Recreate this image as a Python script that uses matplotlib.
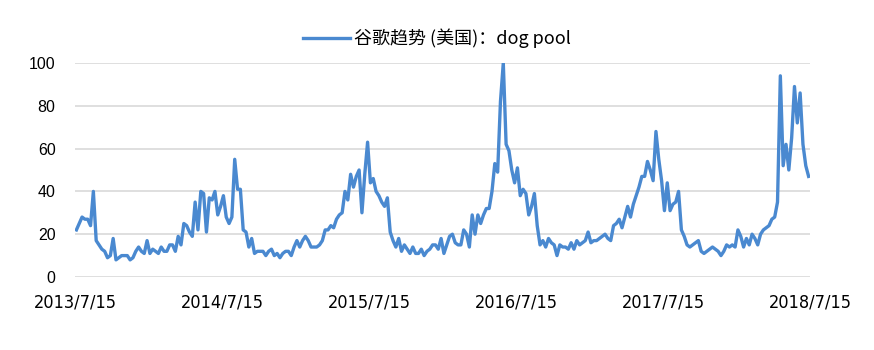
import matplotlib
matplotlib.use("Agg")
import matplotlib.pyplot as plt
from matplotlib import font_manager

# 谷歌趋势 weekly values, 2013/7/15 - 2018/7/15
values = [
    22, 25, 28, 27, 27, 24, 40, 17, 15, 13,
    12, 9, 10, 18, 8, 9, 10, 10, 10, 8,
    9, 12, 14, 12, 11, 17, 11, 13, 12, 11,
    14, 12, 12, 15, 15, 12, 19, 15, 25, 24,
    21, 19, 35, 22, 40, 39, 21, 37, 36, 40,
    29, 33, 38, 28, 25, 28, 55, 41, 41, 22,
    21, 14, 18, 11, 12, 12, 12, 10, 12, 13,
    10, 11, 9, 11, 12, 12, 10, 14, 17, 14,
    17, 19, 17, 14, 14, 14, 15, 17, 22, 22,
    24, 23, 27, 29, 30, 40, 36, 48, 42, 47,
    50, 30, 48, 63, 44, 46, 40, 38, 35, 33,
    37, 21, 17, 14, 18, 12, 15, 13, 11, 14,
    11, 11, 13, 10, 12, 13, 15, 15, 13, 18,
    11, 15, 19, 20, 16, 15, 15, 22, 20, 14,
    29, 20, 29, 25, 29, 32, 32, 40, 53, 49,
    82, 100, 62, 59, 50, 44, 51, 38, 41, 39,
    29, 33, 39, 24, 15, 17, 14, 18, 16, 15,
    10, 15, 14, 14, 13, 16, 13, 17, 15, 16,
    17, 21, 16, 17, 17, 18, 19, 20, 18, 17,
    24, 25, 27, 23, 28, 33, 28, 34, 38, 42,
    47, 47, 54, 50, 45, 68, 55, 45, 31, 44,
    31, 34, 35, 40, 22, 19, 15, 14, 15, 16,
    17, 12, 11, 12, 13, 14, 13, 12, 10, 12,
    15, 14, 15, 14, 22, 19, 14, 18, 15, 20,
    18, 15, 20, 22, 23, 24, 27, 28, 35, 94,
    52, 62, 50, 65, 89, 72, 86, 62, 52, 47,
]
date_labels = ["2013/7/15", "2014/7/15", "2015/7/15",
               "2016/7/15", "2017/7/15", "2018/7/15"]
series_name = "谷歌趋势 (美国)：dog pool"

# narrow font for the date labels if there is one
names = {f.name for f in font_manager.fontManager.ttflist}
narrow = "Liberation Sans Narrow" if "Liberation Sans Narrow" in names else "DejaVu Sans"

n = len(values)
fig = plt.figure(figsize=(8.74, 3.5), dpi=100)
ax = fig.add_axes([0.0858, 0.2086, 0.8410, 0.6114])

ax.plot(range(n), values, color="#4a89d0", lw=2.4, label=series_name,
        solid_joinstyle="round")

ax.set_xlim(-0.5, n - 0.5)
ax.set_ylim(0, 100)
ax.set_yticks(range(0, 101, 20))
ax.set_yticklabels([str(v) for v in range(0, 101, 20)],
                   fontfamily="Liberation Sans", fontsize=11.5)
ax.set_xticks([-0.5 + 52 * i for i in range(len(date_labels))])
ax.set_xticklabels(date_labels, fontfamily=narrow, fontsize=13,
                   fontstretch="condensed")
ax.tick_params(axis="y", length=0, pad=14)
ax.tick_params(axis="x", length=0, pad=12)
ax.grid(axis="y", color="#d9d9d9", lw=1.2)
ax.set_axisbelow(True)
for s in ax.spines.values():
    s.set_visible(False)

fig.legend(loc="upper center", bbox_to_anchor=(0.5, 0.965), frameon=False,
           prop={"family": ["Noto Sans CJK SC", "DejaVu Sans"], "size": 13},
           handlelength=2.6, handletextpad=0.25)

plt.savefig("out.png", dpi=100)
plt.close()
